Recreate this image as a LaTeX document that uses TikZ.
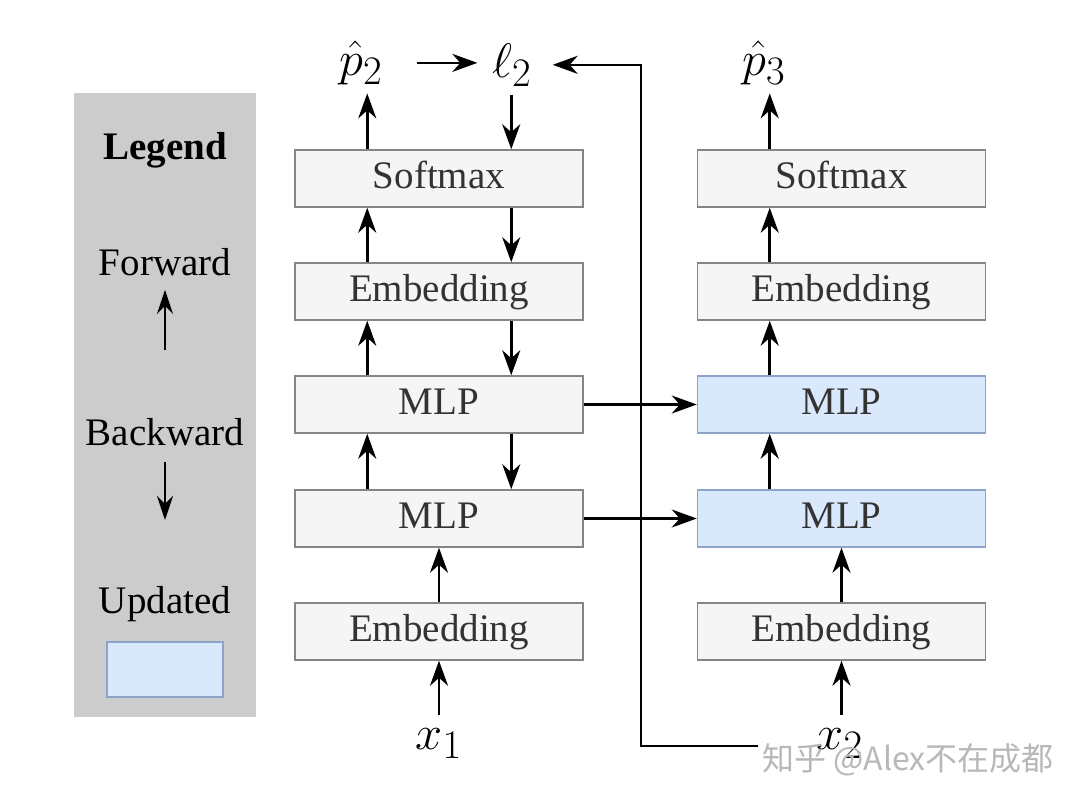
\documentclass[tikz,border=0pt]{standalone}
\usepackage[no-math]{fontspec}
\setmainfont{Liberation Serif}
\newfontfamily\cjk{Noto Sans CJK SC}
\usetikzlibrary{arrows.meta}
\definecolor{boxfill}{HTML}{F5F5F5}
\definecolor{boxline}{HTML}{858585}
\definecolor{boxtext}{HTML}{333333}
\definecolor{updfill}{HTML}{DAE8FC}
\definecolor{updline}{HTML}{8DA3C9}
\definecolor{leggray}{HTML}{CCCCCC}
\definecolor{wmgray}{HTML}{B8B8B8}
\begin{document}
\begin{tikzpicture}[x=1pt,y=-1pt,
  big/.style={font=\fontsize{39}{46}\selectfont},
  blk/.style={big, draw=boxline, fill=boxfill, line width=1.5pt, minimum width=288pt,
    minimum height=57pt, inner sep=0pt, text=boxtext, text height=28pt, text depth=8pt},
  upd/.style={blk, draw=updline, fill=updfill},
  lbl/.style={font=\fontsize{24.88}{30}\selectfont, inner sep=1.3pt, anchor=base, scale=1.95, transform shape},
  arr/.style={line width=2.6pt, -{Stealth[length=25pt,width=18pt,inset=8pt]}},
  larr/.style={line width=2.6pt, -{Stealth[length=24pt,width=16pt,inset=8pt]}},
]
\path[fill=white, use as bounding box] (0,0) rectangle (1080,803);

% legend
\node[fill=leggray, minimum width=182pt, minimum height=624pt, inner sep=0pt] (legbox) at (165,405) {};
\node[font=\fontsize{39}{46}\selectfont\bfseries] (legt) at (165,150) {Legend};
\node[big, inner sep=2pt] (fw) at (165,262) {Forward};
\coordinate (fwa) at (165,350);
\draw[larr, shorten >=12pt] (fwa) -- (fw.south);
\node[big, inner sep=2pt] (bw) at (165,432) {Backward};
\coordinate (bwa) at (165,520);
\draw[larr, shorten <=14pt] (bw.south) -- (bwa);
\node[big, inner sep=2pt] (upt) at (165,604) {Updated};
\node[upd, minimum width=116pt, minimum height=55pt] (updbox) at (165,669.5) {};

% left column
\node[blk] (s1)  at (439,178.5) {Softmax};
\node[blk] (e1t) at (439,291.5) {Embedding};
\node[blk] (m1t) at (439,404.5) {MLP};
\node[blk] (m1b) at (439,518.5) {MLP};
\node[blk] (e1b) at (439,631.5) {Embedding};

% right column
\node[blk] (s2)  at (841.5,178.5) {Softmax};
\node[blk] (e2t) at (841.5,291.5) {Embedding};
\node[upd] (m2t) at (841.5,404.5) {MLP};
\node[upd] (m2b) at (841.5,518.5) {MLP};
\node[blk] (e2b) at (841.5,631.5) {Embedding};

% labels
\node[lbl] (p2) at (361,75) {$\hat{p}_2$};
\node[lbl] (l2) at (512,77) {$\ell_2$};
\node[lbl] (p3) at (764,75) {$\hat{p}_3$};
\node[lbl] (x1) at (439,749) {$x_1$};
\node[lbl] (x2) at (840,749) {$x_2$};

% left forward
\draw[arr, shorten <=10pt] (e1b.south |- x1.north) -- (e1b.south);
\draw[arr] (e1b.north) -- (m1b.south);
\draw[arr] ([xshift=73pt]m1b.north west) -- ([xshift=73pt]m1t.south west);
\draw[arr] ([xshift=73pt]m1t.north west) -- ([xshift=73pt]e1t.south west);
\draw[arr] ([xshift=73pt]e1t.north west) -- ([xshift=73pt]s1.south west);
\draw[arr, shorten >=6pt] ([xshift=73pt]s1.north west) -- ([xshift=73pt]s1.north west |- p2.south);
% left backward
\draw[arr, shorten <=6pt] ([xshift=217pt]s1.north west |- l2.south) -- ([xshift=217pt]s1.north west);
\draw[arr] ([xshift=217pt]s1.south west) -- ([xshift=217pt]e1t.north west);
\draw[arr] ([xshift=217pt]e1t.south west) -- ([xshift=217pt]m1t.north west);
\draw[arr] ([xshift=217pt]m1t.south west) -- ([xshift=217pt]m1b.north west);
\draw[arr, shorten <=31pt, shorten >=12pt] (p2.east) -- (p2.east -| l2.west);

% feedback
\coordinate (fbend) at (758,746);
\coordinate (fbx) at (641,746);
\draw[arr, shorten >=18pt] (fbend) -- (fbx) |- (l2.east);

% cross arrows
\draw[arr] (m1t.east) -- (m2t.west);
\draw[arr] (m1b.east) -- (m2b.west);

% right forward
\draw[arr, shorten <=10pt] (e2b.south |- x2.north) -- (e2b.south);
\draw[arr] (e2b.north) -- (m2b.south);
\draw[arr] ([xshift=73pt]m2b.north west) -- ([xshift=73pt]m2t.south west);
\draw[arr] ([xshift=73pt]m2t.north west) -- ([xshift=73pt]e2t.south west);
\draw[arr] ([xshift=73pt]e2t.north west) -- ([xshift=73pt]s2.south west);
\draw[arr, shorten >=6pt] ([xshift=73pt]s2.north west) -- ([xshift=73pt]s2.north west |- p3.south);

% watermark
\node[font=\cjk\fontsize{32}{36}\selectfont, text=wmgray, inner sep=0pt] (wm) at (908,760) {知乎 @Alex不在成都};
\end{tikzpicture}
\end{document}
